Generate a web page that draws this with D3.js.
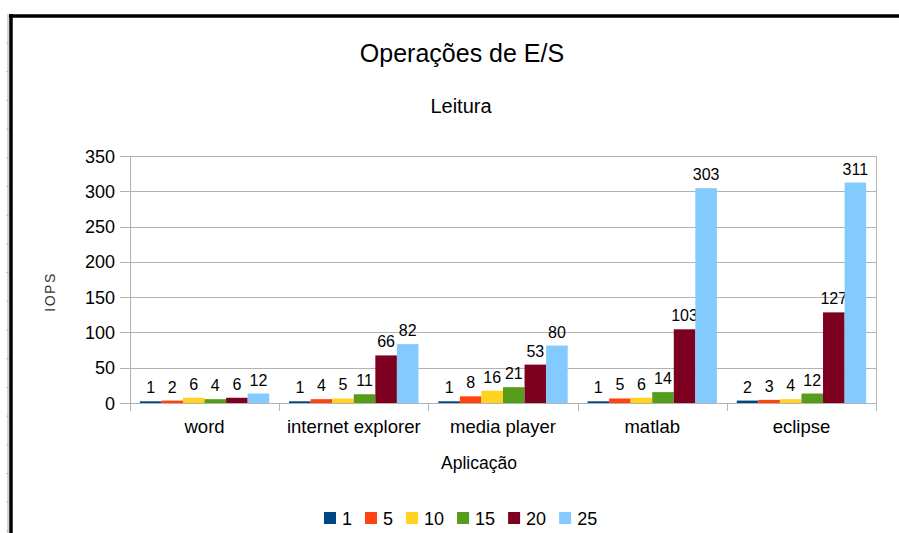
<!DOCTYPE html>
<html>
<head>
<meta charset="utf-8">
<script src="https://cdn.jsdelivr.net/npm/d3@7"></script>
<style>
  body { margin: 0; background: #fff; }
  svg { display: block; font-family: "Liberation Sans", Arial, sans-serif; }
</style>
</head>
<body>
<div id="main-chart"></div>
<script>
var categories = ["word", "internet explorer", "media player", "matlab", "eclipse"];
var seriesNames = ["1", "5", "10", "15", "20", "25"];
var colors = ["#004586", "#ff420e", "#ffd320", "#579d1c", "#7e0021", "#83caff"];
var s1 = [1, 1, 1, 1, 2];
var s5 = [2, 4, 8, 5, 3];
var s10 = [6, 5, 16, 6, 4];
var s15 = [4, 11, 21, 14, 12];
var s20 = [6, 66, 53, 103, 127];
var s25 = [12, 82, 80, 303, 311];
var series = [s1, s5, s10, s15, s20, s25];
var yTicks = [0, 50, 100, 150, 200, 250, 300, 350];

var width = 899, height = 533;
var plotLeft = 130, plotRight = 876, plotTop = 156, plotBottom = 403;

var svg = d3.select("#main-chart")
  .append("svg")
  .attr("width", width)
  .attr("height", height);

// frame round the page
svg.append("line").attr("x1", 8).attr("x2", 8).attr("y1", 14).attr("y2", height)
  .attr("stroke", "#aaa").attr("stroke-width", 1);
svg.append("line").attr("x1", 11).attr("x2", 11).attr("y1", 14).attr("y2", height)
  .attr("stroke", "#000").attr("stroke-width", 3.5);
svg.append("line").attr("x1", 9).attr("x2", width).attr("y1", 16).attr("y2", 16)
  .attr("stroke", "#000").attr("stroke-width", 3.5);
d3.range(43, height, 28.7).forEach(function(yy) {
  svg.append("line").attr("x1", 6).attr("x2", 9).attr("y1", yy).attr("y2", yy)
    .attr("stroke", "#bbb").attr("stroke-width", 1);
});

var y = d3.scaleLinear().domain([0, 350]).range([plotBottom, plotTop]);
var x0 = d3.scaleBand().domain(categories).range([plotLeft, plotRight])
  .paddingInner(0.133).paddingOuter(0.066);
var x1 = d3.scaleBand().domain(seriesNames).range([0, x0.bandwidth()]);

// gridlines with outer ticks
svg.append("g").selectAll("line")
  .data(yTicks)
  .enter()
  .append("line")
  .attr("x1", plotLeft - 10)
  .attr("x2", plotRight)
  .attr("y1", d => Math.round(y(d)) + 0.5)
  .attr("y2", d => Math.round(y(d)) + 0.5)
  .attr("stroke", "#b3b3b3")
  .attr("stroke-width", 1);

svg.append("g").selectAll("text")
  .data(yTicks)
  .enter()
  .append("text")
  .attr("x", 115)
  .attr("y", d => y(d) + 6.5)
  .attr("text-anchor", "end")
  .attr("font-size", 18)
  .attr("fill", "#000")
  .text(d => d);

// vertical axis and right edge
[plotLeft, plotRight].forEach(function(xx) {
  svg.append("line").attr("x1", xx + 0.5).attr("x2", xx + 0.5)
    .attr("y1", plotTop).attr("y2", plotBottom + 8)
    .attr("stroke", "#b3b3b3").attr("stroke-width", 1);
});

// category separators
var step = (plotRight - plotLeft) / categories.length;
d3.range(1, categories.length).forEach(function(i) {
  var xx = Math.round(plotLeft + i * step) + 0.5;
  svg.append("line").attr("x1", xx).attr("x2", xx)
    .attr("y1", plotBottom).attr("y2", plotBottom + 8)
    .attr("stroke", "#b3b3b3").attr("stroke-width", 1);
});

// bars
var groups = svg.append("g").selectAll("g")
  .data(seriesNames)
  .enter()
  .append("g")
  .attr("fill", (d, i) => colors[i]);

groups.selectAll("rect")
  .data((d, i) => series[i].map((v, j) => ({ s: d, c: categories[j], v: v })))
  .enter()
  .append("rect")
  .attr("x", d => x0(d.c) + x1(d.s))
  .attr("y", d => y(d.v) - 1)
  .attr("width", x1.bandwidth())
  .attr("height", d => plotBottom - y(d.v) + 1);

groups.selectAll("text")
  .data((d, i) => series[i].map((v, j) => ({ s: d, c: categories[j], v: v })))
  .enter()
  .append("text")
  .attr("x", d => x0(d.c) + x1(d.s) + x1.bandwidth() / 2)
  .attr("y", d => y(d.v) - 9)
  .attr("text-anchor", "middle")
  .attr("font-size", 16)
  .attr("fill", "#000")
  .text(d => d.v);

// bottom axis line over bars
svg.append("line").attr("x1", plotLeft).attr("x2", plotRight)
  .attr("y1", plotBottom + 0.5).attr("y2", plotBottom + 0.5)
  .attr("stroke", "#b3b3b3").attr("stroke-width", 1);

// category labels
svg.append("g").selectAll("text")
  .data(categories)
  .enter()
  .append("text")
  .attr("x", d => x0(d) + x0.bandwidth() / 2)
  .attr("y", 433)
  .attr("text-anchor", "middle")
  .attr("font-size", 18.5)
  .attr("fill", "#000")
  .text(d => d);

// titles
svg.append("text").attr("x", 462).attr("y", 62)
  .attr("text-anchor", "middle").attr("font-size", 25).text("Operações de E/S");
svg.append("text").attr("x", 461).attr("y", 112.5)
  .attr("text-anchor", "middle").attr("font-size", 20).text("Leitura");
svg.append("text").attr("x", 479).attr("y", 468.5)
  .attr("text-anchor", "middle").attr("font-size", 17.5).text("Aplicação");
svg.append("text")
  .attr("transform", "translate(55,292) rotate(-90)")
  .attr("text-anchor", "middle").attr("font-size", 14)
  .attr("letter-spacing", 1.5).attr("fill", "#333").text("IOPS");

// legend
var legend = svg.append("g");
var lx = 324;
seriesNames.forEach(function(name, i) {
  legend.append("rect").attr("x", lx).attr("y", 512)
    .attr("width", 12).attr("height", 12).attr("fill", colors[i]);
  var t = legend.append("text").attr("x", lx + 18).attr("y", 524.5)
    .attr("font-size", 18).attr("fill", "#000").text(name);
  lx += 18 + t.node().getComputedTextLength() + 13;
});
</script>
</body>
</html>
